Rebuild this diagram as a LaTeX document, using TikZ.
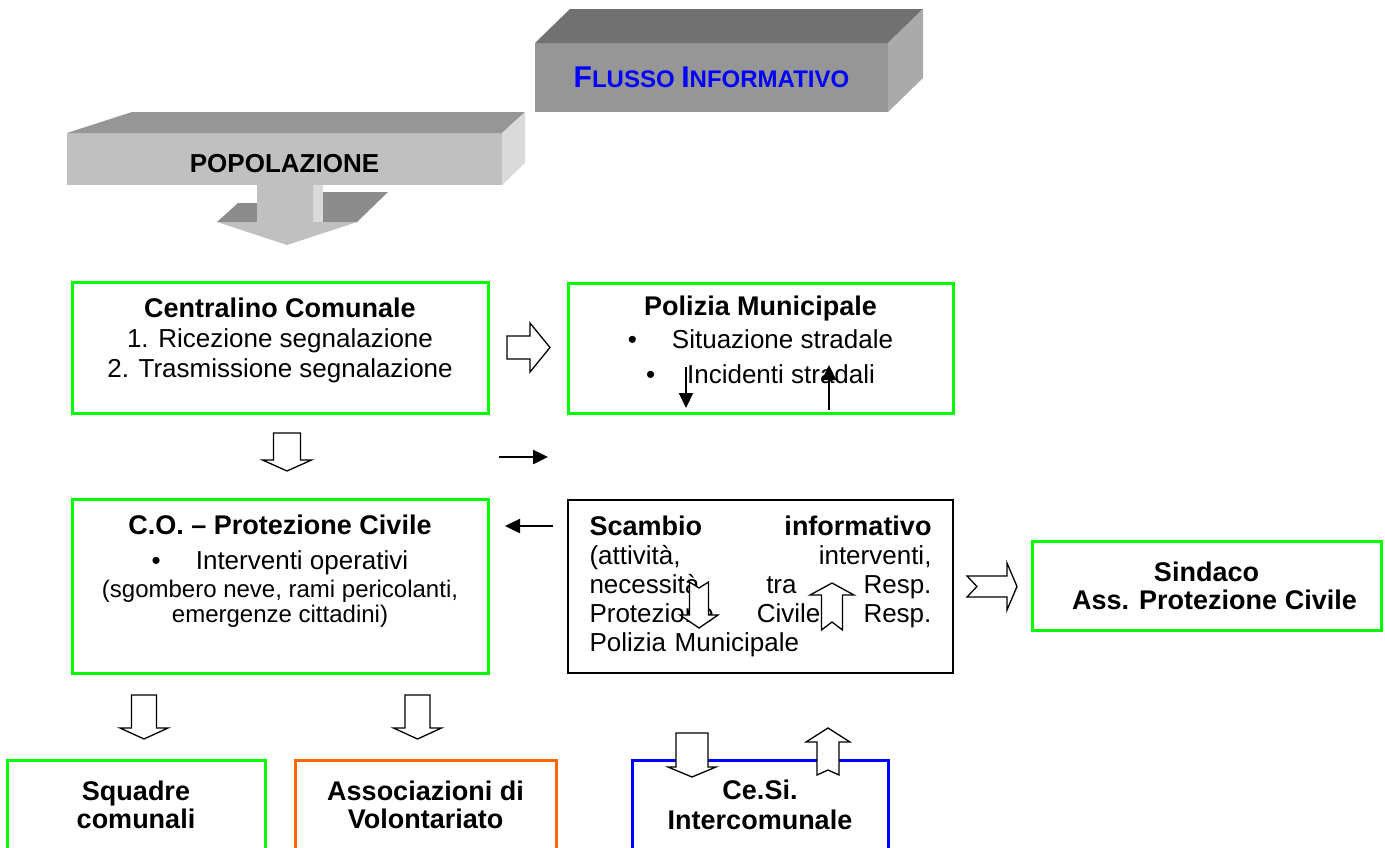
\documentclass[tikz,border=0pt]{standalone}
\usepackage{fontspec}
\setmainfont{Liberation Sans}
\usepackage{xcolor}
\usetikzlibrary{arrows.meta}
\definecolor{c1}{HTML}{00FF00}
\definecolor{c2}{HTML}{FF6600}
\definecolor{c3}{HTML}{0000FF}
\definecolor{c4}{HTML}{969696}
\definecolor{c5}{HTML}{717171}
\definecolor{c6}{HTML}{AAAAAA}
\definecolor{c7}{HTML}{C0C0C0}
\definecolor{c8}{HTML}{DADADA}
\definecolor{c9}{HTML}{8C8C8C}
\newcommand{\hdr}[1]{{\fontsize{27}{30}\selectfont\bfseries #1}}

\begin{document}
\begin{tikzpicture}[x=1pt, y=-1pt,
  txt/.style={font=\fontsize{26}{30}\selectfont},
  boldtxt/.style={font=\fontsize{27}{30}\selectfont\bfseries},
  box/.style={txt, line width=3pt, align=center, inner sep=0pt, outer sep=0pt},
  blockarr/.style={draw=black, fill=white, line width=1.3pt},
  thinarr/.style={line width=2.5pt, -{Triangle[length=15pt,width=14pt]}},
  pics/fatarrow/.style args={#1/#2/#3/#4/#5}{code={
    \draw[blockarr] (0,-#2) -- (#1-#4,-#2) -- (#1-#4,-#3) -- (#1,0)
      -- (#1-#4,#3) -- (#1-#4,#2) -- (0,#2) -- (#5,0) -- cycle;}}]
  \useasboundingbox (0,0) rectangle (1385,847);
  \clip (0,0) rectangle (1385,847);
  % Title block
  \node[fill=c4, minimum width=353pt, minimum height=69pt, inner sep=0pt, outer sep=0pt, text=c3,
    font=\bfseries] (flusso) at (711.5,77.5)
    {\fontsize{30}{30}\selectfont F\fontsize{24}{24}\selectfont LUSSO
     \fontsize{30}{30}\selectfont I\fontsize{24}{24}\selectfont NFORMATIVO};
  \fill[c5] (flusso.north west) -- ++(35,-34) -- ([shift={(35,-34)}]flusso.north east)
    -- (flusso.north east) -- cycle;
  \fill[c6] (flusso.north east) -- ++(35,-34) -- ++(0,69) -- (flusso.south east) -- cycle;
  % Popolazione block
  \node[font=\fontsize{26}{30}\selectfont\bfseries, fill=c7, minimum width=435pt, minimum height=52pt,
    inner sep=0pt, outer sep=0pt, text height=27pt] (popol) at (284.5,159) {POPOLAZIONE};
  \fill[c4] (popol.north west) -- ++(65,-21) -- ([shift={(23,-21)}]popol.north east)
    -- (popol.north east) -- cycle;
  \fill[c8] (popol.north east) -- ++(23,-21) -- ++(0,51) -- (popol.south east) -- cycle;
  % big arrow under it
  \fill[c9] (217,222) -- (238,203) -- (257,203) -- (257,222) -- cycle;
  \fill[c9] (323,192) -- (388,192) -- (357,222) -- (323,222) -- cycle;
  \fill[c8] (313,185) -- (323,185) -- (323,222) -- (313,222) -- cycle;
  \fill[c7] (257,185) -- (313,185) -- (313,222) -- (357,222) -- (287,245)
    -- (217,222) -- (257,222) -- cycle;
  % Boxes
  \node[box, draw=c1, minimum width=416pt, minimum height=131pt] (cent) at (280,347.5)
    {\hdr{Centralino Comunale}\\ 1. Ricezione segnalazione\\
     2. Trasmissione segnalazione\\[-10pt]\mbox{}};
  \node[box, draw=c1, minimum width=385pt, minimum height=130pt] (pol) at (760.5,348)
    {\hdr{Polizia Municipale}\\[3pt] \textbullet\hspace{35pt}Situazione stradale\\[5pt]
     \textbullet\hspace{32pt}Incidenti stradali\\[-14pt]\mbox{}};
  \node[box, draw=c1, minimum width=416pt, minimum height=174pt] (co) at (280,586)
    {\hdr{C.O. – Protezione Civile}\\[5pt] \textbullet\hspace{35pt}Interventi operativi\\[-2pt]
     {\fontsize{24}{26}\selectfont (sgombero neve, rami pericolanti,}\\[-5pt]
     {\fontsize{24}{26}\selectfont emergenze cittadini)}\\[4pt]\mbox{}};
  \node[box, draw=black, line width=1.3pt, font=\fontsize{26}{29}\selectfont, text width=342pt,
    inner xsep=21.5pt, align=left, minimum height=173pt] (scamb) at (760.5,586.5)
    {\hdr{Scambio}\hfill\hdr{informativo}\\ (attività,\hfill interventi,\\
     necessità\hfill tra\hfill Resp.\\ Protezione\hfill Civile\hfill Resp.\\ Polizia Municipale};
  \node[box, boldtxt, draw=c1, minimum width=349pt, minimum height=89pt] (sind) at (1206.5,585.5)
    {Sindaco\\[-2pt]\hspace*{16pt}Ass. Protezione Civile};
  \node[box, boldtxt, draw=c1, minimum width=258pt, minimum height=90pt] (squad) at (136,805)
    {Squadre\\[-2pt]comunali};
  \node[box, boldtxt, draw=c2, minimum width=261pt, minimum height=90pt] (assoc) at (425.5,805)
    {Associazioni di\\[-2pt]Volontariato};
  \node[box, boldtxt, draw=c3, minimum width=256pt, minimum height=90pt] (cesi) at (760,805)
    {Ce.Si.\\Intercomunale};
  % Block arrows
  \pic at ([shift={(19,0)}]cent.east) {fatarrow=43/11.5/24.5/20/0};
  \pic[rotate=-90] at ([shift={(7,20)}]cent.south) {fatarrow=38/13.5/24.5/11/0};
  \pic[rotate=-90] at ([shift={(8,-65)}]squad.north) {fatarrow=44/12.5/24/11/0};
  \pic[rotate=-90] at ([shift={(-8,-65)}]assoc.north) {fatarrow=44/12.5/24/11/0};
  \pic at ([shift={(14,0)}]scamb.east) {fatarrow=50/10.5/23.5/10/10};
  \pic[rotate=-90] at ([shift={(-61.5,82)}]scamb.north) {fatarrow=46/9.5/19/13/6};
  \pic[rotate=90] at ([shift={(71.5,130)}]scamb.north) {fatarrow=47/10.5/22/12/8};
  \pic[rotate=-90] at ([shift={(-68,-27)}]cesi.north) {fatarrow=44/16/24/10/0};
  \pic[rotate=90] at ([shift={(68,15)}]cesi.north) {fatarrow=47/11/22/14/5};
  % Thin arrows
  \draw[thinarr, shorten <=11pt, shorten >=20pt] (cent.east |- 0,457) -- (pol.west |- 0,457);
  \draw[thinarr, shorten <=15pt, shorten >=17pt] (scamb.west |- 0,526) -- (co.east |- 0,526);
  \draw[thinarr, line width=2pt] ([shift={(118,-46)}]pol.south west) -- ([shift={(118,-5)}]pol.south west);
  \draw[thinarr, line width=2pt] ([shift={(261,-3)}]pol.south west) -- ([shift={(261,-48)}]pol.south west);
\end{tikzpicture}
\end{document}
